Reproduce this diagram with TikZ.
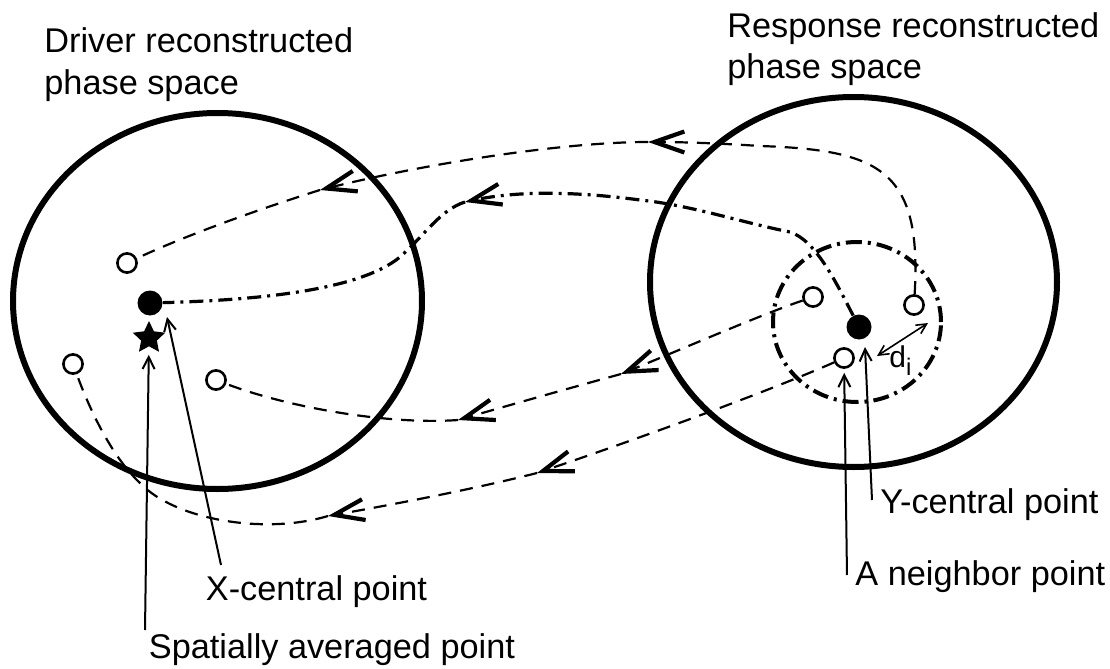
\documentclass[tikz,border=0pt]{standalone}
\usepackage{fontspec}
\setmainfont{Liberation Sans}
\usetikzlibrary{arrows.meta,shapes.geometric,calc}
\begin{document}
\begin{tikzpicture}[x=0.5pt,y=-0.5pt,
  space/.style={draw, ellipse, line width=3pt, inner sep=0pt},
  openpt/.style={circle, draw, fill=white, line width=1.3pt, minimum size=9.6pt, inner sep=0pt},
  fullpt/.style={circle, fill=black, minimum size=12.5pt, inner sep=0pt},
  flow/.style={line width=1.1pt, dash pattern=on 6.5pt off 4.5pt},
  dashdotflow/.style={line width=1.6pt, dash pattern=on 7pt off 3pt on 1.5pt off 3pt},
  barbtip/.style={-{Straight Barb[length=15pt,width=10.5pt,line width=2.1pt]}},
  ptr/.style={line width=1pt, -{Straight Barb[length=6pt,width=6pt]}},
  lbl/.style={anchor=base west, inner sep=0pt, font=\fontsize{17.15}{20.5}\selectfont}]
\useasboundingbox (0,0) rectangle (1110,669);

% phase spaces
\node[space, minimum width=204.5pt, minimum height=188pt] (driver) at (217.5,301) {};
\node[space, minimum width=203.5pt, minimum height=185pt] (response) at (853.5,282) {};
\node[draw, ellipse, line width=2pt, dash pattern=on 8pt off 3pt on 1.5pt off 3pt,
      minimum width=84pt, minimum height=80pt, inner sep=0pt] (nbhd) at (857,322) {};

% points in driver space
\node[openpt] (lp1) at (127,263) {};
\node[fullpt] (lx) at (150,303) {};
\node[star, star points=5, star point ratio=2.05, fill=black, inner sep=0pt, minimum size=17pt] (lstar) at (149,338) {};
\node[openpt] (lp2) at (73,364) {};
\node[openpt] (lp3) at (216,380) {};

% points in response space
\node[openpt] (rp1) at (813,297) {};
\node[openpt] (rp2) at (914,305) {};
\node[fullpt] (ry) at (859,327) {};
\node[openpt] (rp3) at (844,358) {};

% waypoints and arrowhead positions
\coordinate (c1a) at (760,146);
\coordinate (a11) at (648,142);
\coordinate (a12) at (320,190);
\coordinate (c2a) at (790,232);
\coordinate (c2b) at (640,200);
\coordinate (a21) at (465,202);
\coordinate (c2c) at (400,257);
\coordinate (a31) at (621,374);
\coordinate (a32) at (458,420);
\coordinate (a41) at (537,473);
\coordinate (a42) at (328,516);
\coordinate (c4a) at (140,483);

% curve 1
\draw[flow, barbtip] (rp2) .. controls (922,170) and (880,150) .. (c1a) .. controls (730,144) and (690,142) .. (a11);
\draw[flow, barbtip] (a11) .. controls (560,142) and (420,165) .. (a12);
\draw[flow] (a12) .. controls (250,212) and (180,238) .. (lp1);

% curve 2 (central points)
\draw[dashdotflow, barbtip] (ry) .. controls (835,280) and (815,240) .. (c2a) .. controls (740,222) and (690,205) .. (c2b) .. controls (580,192) and (520,190) .. (a21);
\draw[dashdotflow] (a21) .. controls (440,210) and (425,235) .. (c2c) .. controls (360,290) and (260,300) .. (lx);

% curve 3
\draw[flow, barbtip] (rp1) .. controls (760,315) and (680,350) .. (a31);
\draw[flow, barbtip] (a31) .. controls (570,388) and (510,405) .. (a32);
\draw[flow] (a32) .. controls (390,425) and (290,408) .. (lp3);

% curve 4
\draw[flow, barbtip] (rp3) .. controls (760,395) and (620,445) .. (a41);
\draw[flow, barbtip] (a41) .. controls (470,490) and (390,505) .. (a42);
\draw[flow] (a42) .. controls (265,535) and (175,520) .. (c4a) .. controls (110,455) and (88,405) .. (lp2);

% labels
\node[lbl] (drv1) at (44,53) {Driver reconstructed};
\node[lbl] (drv2) at (44,94) {phase space};
\node[lbl] (rsp1) at (727,37) {Response reconstructed};
\node[lbl] (rsp2) at (727,78) {phase space};
\node[lbl] (xlab) at (205.5,600) {X-central point};
\node[lbl] (slab) at (148.5,658) {Spatially averaged point};
\node[lbl] (ylab) at (880,513) {Y-central point};
\node[lbl] (alab) at (855,585) {A neighbor point};

% pointers
\coordinate (spt) at (145,630);
\draw[ptr, shorten >=4pt] (spt) -- (lstar);
\coordinate (xct) at (221,565);
\coordinate (xtip) at ($(lx)+(17,14)$);
\draw[ptr] (xct) -- (xtip);
\coordinate (yct) at (872,500);
\coordinate (ytip) at ($(ry)+(6,20)$);
\draw[ptr] (yct) -- (ytip);
\coordinate (nbt) at (847,575);
\draw[ptr, shorten >=2pt] (nbt) -- (rp3);

% distance d_i
\coordinate (d1) at ($(ry)+(18,29)$);
\coordinate (d2) at ($(rp2)+(14,18)$);
\draw[line width=0.8pt, {Straight Barb[length=5pt,width=5pt]}-{Straight Barb[length=5pt,width=5pt]}] (d1) -- (d2);
\node[anchor=base west, inner sep=0pt, font=\fontsize{15}{15}\selectfont] (dlab) at (889,367) {d\raisebox{-4pt}{\fontsize{12}{12}\selectfont i}};
\end{tikzpicture}
\end{document}
